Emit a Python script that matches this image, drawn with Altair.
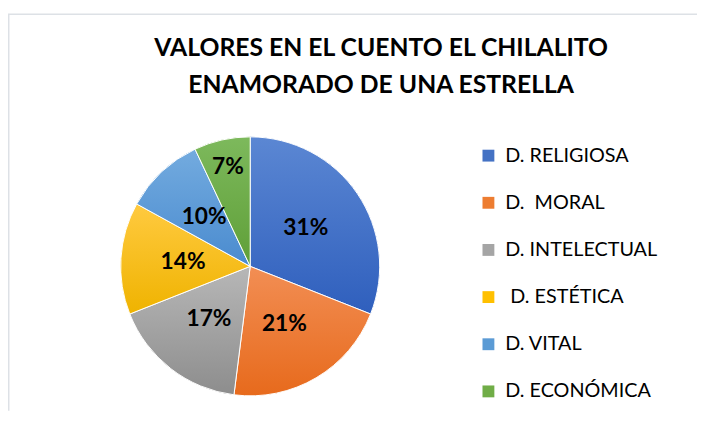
import math
import altair as alt
import pandas as pd

# ---- data ----
categories = ["D. RELIGIOSA", "D.\u00a0 MORAL", "D. INTELECTUAL", "\u200b\u00a0D. ESTÉTICA", "D. VITAL", "D. ECONÓMICA"]
values = [31, 21, 17, 14, 10, 7]

# ---- styles ----
colors = ["#4472C4", "#ED7D31", "#A5A5A5", "#FFC000", "#5B9BD5", "#70AD47"]
grad_top = ["#5b87d3", "#f28e54", "#b7b7b7", "#ffca40", "#73abdf", "#7db95c"]
grad_bottom = ["#2f5fbd", "#e76a1c", "#8d8d8d", "#efb300", "#4a8bcf", "#5f9f38"]
title_lines = ["VALORES EN EL CUENTO EL CHILALITO", "ENAMORADO DE UNA ESTRELLA"]

df = pd.DataFrame({"category": categories, "value": values, "order": list(range(len(values)))})

CX, CY, R = 245, 259, 131
theta_scale = alt.Scale(domain=[0, 100], range=[0, 2 * math.pi])

base = (
    alt.Chart(df)
    .transform_window(end="sum(value)", sort=[alt.SortField("order")], frame=[None, 0])
    .transform_calculate(
        start="datum.end - datum.value",
        mid="datum.end - datum.value / 2",
        label="datum.value + '%'",
        lr="datum.value < 8 ? 103 : 68",
    )
)

solid = base.mark_arc(outerRadius=R).encode(
    theta=alt.Theta("start:Q", scale=theta_scale, stack=None),
    theta2="end:Q",
    color=alt.Color(
        "category:N",
        sort=categories,
        scale=alt.Scale(domain=categories, range=colors),
        legend=alt.Legend(title=None),
    ),
    x=alt.value(CX),
    y=alt.value(CY),
)

grad_layers = []
for cat, top, bot in zip(categories, grad_top, grad_bottom):
    g = (
        base.transform_filter(alt.datum.category == cat)
        .mark_arc(
            outerRadius=R,
            fill=alt.LinearGradient(
                gradient="linear",
                x1=0, y1=0, x2=0, y2=1,
                stops=[alt.GradientStop(color=top, offset=0), alt.GradientStop(color=bot, offset=1)],
            ),
            stroke="white",
            strokeWidth=1,
        )
        .encode(
            theta=alt.Theta("start:Q", scale=theta_scale, stack=None),
            theta2="end:Q",
            x=alt.value(CX),
            y=alt.value(CY),
        )
    )
    grad_layers.append(g)

labels = base.mark_text(font="Lato", fontSize=23, fontWeight="bold", color="black").encode(
    theta=alt.Theta("mid:Q", scale=theta_scale, stack=None),
    radius=alt.Radius("lr:Q", scale=None),
    text="label:N",
    x=alt.value(CX),
    y=alt.value(CY),
)

frame_src = alt.Chart(alt.Data(values=[{"k": 0}]))
vline = frame_src.mark_rule(color="#dde1e6", strokeWidth=1.5).encode(
    x=alt.value(0.75), y=alt.value(4), y2=alt.value(405)
)
hline = frame_src.mark_rule(color="#dde1e6", strokeWidth=1.5).encode(
    x=alt.value(0), x2=alt.value(697), y=alt.value(4)
)

chart = (
    alt.layer(vline, hline, solid, *grad_layers, labels)
    .properties(
        width=697,
        height=405,
        padding=0,
        autosize=alt.AutoSizeParams(type="none"),
        title=alt.TitleParams(
            text=title_lines,
            font="Lato",
            fontSize=25,
            fontWeight="bold",
            color="black",
            anchor="middle",
            dx=29,
            dy=93,
            lineHeight=38,
        ),
    )
    .configure_view(stroke=None)
    .configure_legend(
        orient="none",
        legendX=476,
        legendY=137,
        padding=0,
        symbolType="square",
        symbolSize=144,
        symbolStrokeWidth=0,
        labelFont="Lato",
        labelFontSize=20,
        labelColor="black",
        labelOffset=7,
        rowPadding=27.7,
        labelLimit=300,
    )
)

chart.save("out.html", embed_options={"renderer": "svg", "actions": False})
